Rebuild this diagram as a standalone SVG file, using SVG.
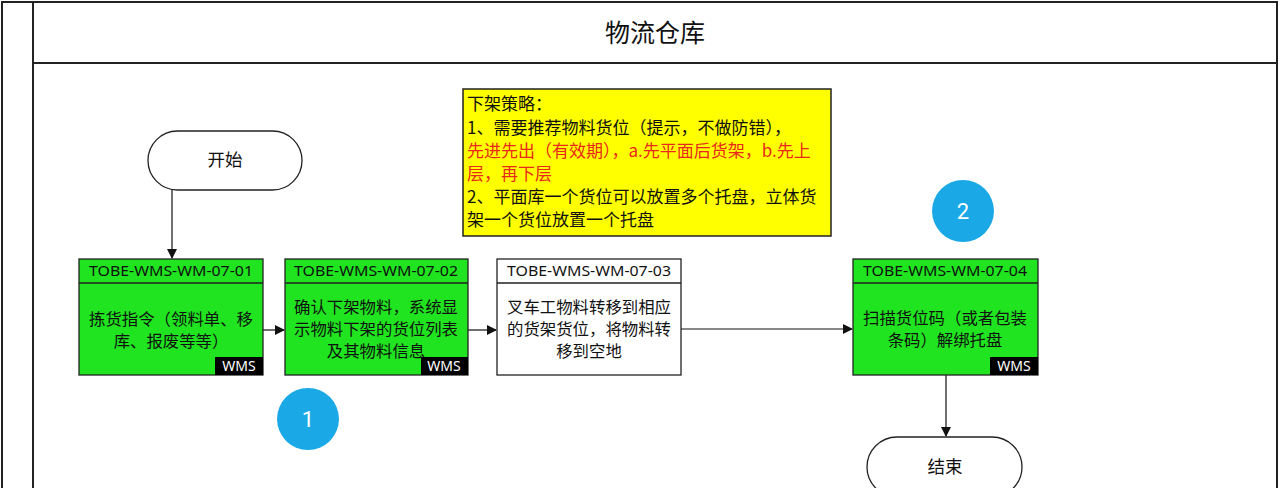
<svg xmlns="http://www.w3.org/2000/svg" width="1280" height="488" viewBox="0 0 1280 488">
<style>
.frame{fill:none;stroke:#222;stroke-width:2}
.t{font-family:"Noto Sans CJK SC","Noto Sans",sans-serif;fill:#111}
.box{stroke:#222;stroke-width:1.3}
.green{fill:#1FE41F}
.white{fill:#fff}
.hdr{font-family:"Noto Sans","Noto Sans CJK SC",sans-serif;font-size:14.5px;fill:#111;text-anchor:middle}
.body{font-family:"Noto Sans CJK SC",sans-serif;font-size:16.4px;fill:#111;text-anchor:middle}
.tag{fill:#000}
.tagt{font-family:"Noto Sans",sans-serif;font-size:14px;fill:#fff;text-anchor:middle}
.conn{stroke:#111;stroke-width:1.2;fill:none;marker-end:url(#ah)}
.badge{fill:#1AA9E6}
.bt{font-family:"Roboto","Noto Sans",sans-serif;font-size:22px;fill:#fff;text-anchor:middle}
.note{font-family:"Noto Sans CJK SC",sans-serif;font-size:17px;fill:#111}
.red{fill:#E8291C}
</style>
<defs>
<marker id="ah" markerWidth="10" markerHeight="10" refX="9" refY="5" orient="auto" markerUnits="userSpaceOnUse">
<path d="M0,0 L10,5 L0,10 Z" fill="#111"/>
</marker>
</defs>
<rect width="1280" height="488" fill="#fff"/>
<g id="pool">
<path class="frame" d="M2,490 V2 H1277 V490"/>
<path class="frame" d="M33,2 V490 M33,63 H1277"/>
<text class="t" x="655" y="42" font-size="25" text-anchor="middle">物流仓库</text>
</g>
<g id="connectors">
<path class="conn" d="M172,190 V258"/>
<path class="conn" d="M262,330 H284"/>
<path class="conn" d="M468,330 H496"/>
<path class="conn" d="M681,329 H852"/>
<path class="conn" d="M946,375 V436"/>
</g>
<g id="note">
<rect x="463" y="89" width="368" height="147" fill="#FFFF00" stroke="#222" stroke-width="1.5"/>
<text class="note" x="467" y="110"><tspan x="467" y="110">下架策略：</tspan><tspan x="467" y="134">1、需要推荐物料货位（提示，不做防错），</tspan><tspan x="467" y="157" class="red">先进先出（有效期），a.先平面后货架，b.先上</tspan><tspan x="467" y="180" class="red">层，再下层</tspan><tspan x="467" y="203">2、平面库一个货位可以放置多个托盘，立体货</tspan><tspan x="467" y="226">架一个货位放置一个托盘</tspan></text>
</g>
<g id="start">
<rect x="148" y="131" width="154" height="59" rx="29.5" fill="#fff" stroke="#222" stroke-width="1.3"/>
<text class="t" x="225" y="166" font-size="17.5" text-anchor="middle">开始</text>
</g>
<g id="n1">
<rect class="box green" x="79" y="259" width="184" height="116"/>
<line class="box" x1="79" y1="283" x2="263" y2="283"/>
<text class="hdr" x="171" y="276" textLength="164" lengthAdjust="spacingAndGlyphs">TOBE-WMS-WM-07-01</text>
<text class="body"><tspan x="171" y="325">拣货指令（领料单、移</tspan><tspan x="171" y="347">库、报废等等）</tspan></text>
<rect class="tag" x="215" y="357" width="48" height="18"/>
<text class="tagt" x="239" y="371">WMS</text>
</g>
<g id="n2">
<rect class="box green" x="285" y="259" width="183" height="116"/>
<line class="box" x1="285" y1="283" x2="468" y2="283"/>
<text class="hdr" x="376" y="276" textLength="164" lengthAdjust="spacingAndGlyphs">TOBE-WMS-WM-07-02</text>
<text class="body"><tspan x="376" y="313">确认下架物料，系统显</tspan><tspan x="376" y="335">示物料下架的货位列表</tspan><tspan x="376" y="357">及其物料信息</tspan></text>
<rect class="tag" x="421" y="357" width="47" height="18"/>
<text class="tagt" x="444" y="371">WMS</text>
</g>
<g id="n3">
<rect class="box white" x="497" y="259" width="184" height="116"/>
<line class="box" x1="497" y1="283" x2="681" y2="283"/>
<text class="hdr" x="589" y="276" textLength="164" lengthAdjust="spacingAndGlyphs">TOBE-WMS-WM-07-03</text>
<text class="body"><tspan x="589" y="313">叉车工物料转移到相应</tspan><tspan x="589" y="335">的货架货位，将物料转</tspan><tspan x="589" y="357">移到空地</tspan></text>
</g>
<g id="n4">
<rect class="box green" x="853" y="259" width="185" height="116"/>
<line class="box" x1="853" y1="283" x2="1038" y2="283"/>
<text class="hdr" x="945" y="276" textLength="164" lengthAdjust="spacingAndGlyphs">TOBE-WMS-WM-07-04</text>
<text class="body"><tspan x="945" y="324">扫描货位码（或者包装</tspan><tspan x="945" y="346">条码）解绑托盘</tspan></text>
<rect class="tag" x="990" y="357" width="48" height="18"/>
<text class="tagt" x="1014" y="371">WMS</text>
</g>
<g id="end">
<rect x="867" y="437" width="155" height="60" rx="30" fill="#fff" stroke="#222" stroke-width="1.3"/>
<text class="t" x="945" y="473" font-size="17.5" text-anchor="middle">结束</text>
</g>
<g id="badge1">
<circle class="badge" cx="308" cy="419" r="31"/>
<text class="bt" x="308" y="427">1</text>
</g>
<g id="badge2">
<circle class="badge" cx="963" cy="211" r="31"/>
<text class="bt" x="963" y="219">2</text>
</g>
</svg>
